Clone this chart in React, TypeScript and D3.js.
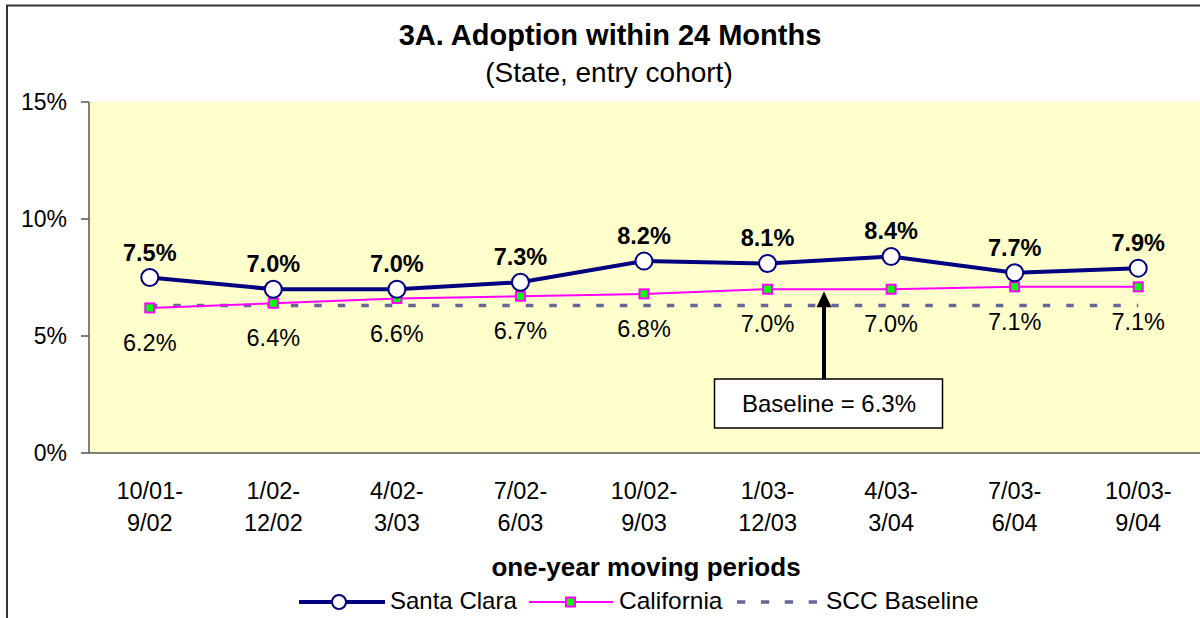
import React from "react";
import * as d3 from "d3";

const categories: string[][] = [
  ["10/01-", "9/02"],
  ["1/02-", "12/02"],
  ["4/02-", "3/03"],
  ["7/02-", "6/03"],
  ["10/02-", "9/03"],
  ["1/03-", "12/03"],
  ["4/03-", "3/04"],
  ["7/03-", "6/04"],
  ["10/03-", "9/04"],
];
const santaClara = [7.5, 7.0, 7.0, 7.3, 8.2, 8.1, 8.4, 7.7, 7.9];
const california = [6.2, 6.4, 6.6, 6.7, 6.8, 7.0, 7.0, 7.1, 7.1];
const sccBaseline = 6.3;
const yTicks = [0, 5, 10, 15];

const W = 1200;
const H = 618;
const FONT = "Arial, 'Liberation Sans', sans-serif";

export default function App() {
  const left = 89, right = 1200, top = 102, bottom = 453;
  const idx = categories.map((_, i) => String(i));
  const x = d3.scaleBand<string>().domain(idx).range([left - 1, right]);
  const cx = (i: number) => (x(String(i)) as number) + x.bandwidth() / 2;
  const y = d3.scaleLinear().domain([0, 15]).range([bottom, top]);

  const line = d3.line<number>().x((_, i) => cx(i)).y((d) => y(d));
  const scPath = line(santaClara) || "";
  const caPath = line(california) || "";
  const basePath = line(categories.map(() => sccBaseline)) || "";

  const arrowX = 824;
  const boxTop = 379;
  const arrowTip = y(7.0) + 2;

  return (
    <svg
      width={W}
      height={H}
      style={{ position: "absolute", left: 0, top: 0, background: "#fff" }}
      fontFamily={FONT}
    >
      {/* outer border */}
      <rect x={7} y={5.5} width={1300} height={700} fill="#fff" stroke="#333" strokeWidth={2} />
      {/* title */}
      <text x={610} y={45} textAnchor="middle" fontSize={29} fontWeight="bold">
        3A. Adoption within 24 Months
      </text>
      <text x={609} y={82} textAnchor="middle" fontSize={28}>
        (State, entry cohort)
      </text>
      {/* plot area */}
      <rect x={left} y={top} width={right - left} height={bottom - top} fill="#FFFFCC" />
      <line x1={left} x2={left} y1={top} y2={bottom} stroke="#555" strokeWidth={1.5} />
      <line x1={left} x2={right} y1={bottom} y2={bottom} stroke="#555" strokeWidth={1.5} />
      {yTicks.map((t) => (
        <g key={t}>
          <line x1={left - 8} x2={left} y1={y(t)} y2={y(t)} stroke="#555" strokeWidth={1.5} />
          <text x={67} y={y(t) + 7.5} textAnchor="end" fontSize={23}>
            {t}%
          </text>
        </g>
      ))}
      {categories.map((c, i) => (
        <g key={i}>
          <text x={cx(i)} y={499} textAnchor="middle" fontSize={23.5}>
            {c[0]}
          </text>
          <text x={cx(i)} y={531} textAnchor="middle" fontSize={23.5}>
            {c[1]}
          </text>
        </g>
      ))}
      <text x={646} y={576} textAnchor="middle" fontSize={26} fontWeight="bold">
        one-year moving periods
      </text>
      {/* baseline */}
      <path d={basePath} fill="none" stroke="#666699" strokeWidth={3.5} strokeDasharray="7.5,16" />
      {/* California */}
      <path d={caPath} fill="none" stroke="#FF00FF" strokeWidth={2} />
      {california.map((v, i) => (
        <g key={i}>
          <rect x={cx(i) - 4.5} y={y(v) - 4.5} width={9} height={9} fill="#00FF00" stroke="#FF00FF" strokeWidth={2} />
          <text x={cx(i)} y={y(v) + 43} textAnchor="middle" fontSize={23.5}>
            {v.toFixed(1)}%
          </text>
        </g>
      ))}
      {/* Santa Clara */}
      <path d={scPath} fill="none" stroke="#000080" strokeWidth={4} />
      {santaClara.map((v, i) => (
        <g key={i}>
          <circle cx={cx(i)} cy={y(v)} r={8.5} fill="#fff" stroke="#000080" strokeWidth={2} />
          <text x={cx(i)} y={y(v) - 17} textAnchor="middle" fontSize={23.5} fontWeight="bold">
            {v.toFixed(1)}%
          </text>
        </g>
      ))}
      {/* annotation */}
      <line x1={arrowX} x2={arrowX} y1={boxTop} y2={arrowTip + 12} stroke="#000" strokeWidth={4} />
      <path d={`M${arrowX},${arrowTip} L${arrowX - 7.5},${arrowTip + 16} L${arrowX + 7.5},${arrowTip + 16} Z`} fill="#000" />
      <rect x={714.5} y={boxTop} width={228} height={49} fill="#fff" stroke="#000" strokeWidth={1.5} />
      <text x={829} y={412} textAnchor="middle" fontSize={24}>
        Baseline = 6.3%
      </text>
      {/* legend */}
      <line x1={299} x2={385} y1={602} y2={602} stroke="#000080" strokeWidth={4} />
      <circle cx={339} cy={602} r={7} fill="#fff" stroke="#000080" strokeWidth={2} />
      <text x={390} y={609} fontSize={24}>Santa Clara</text>
      <line x1={529} x2={613} y1={602} y2={602} stroke="#FF00FF" strokeWidth={2} />
      <rect x={566} y={597.5} width={9} height={9} fill="#00FF00" stroke="#FF00FF" strokeWidth={2} />
      <text x={619} y={609} fontSize={24.5}>California</text>
      <line x1={737} x2={817} y1={602} y2={602} stroke="#666699" strokeWidth={3.5} strokeDasharray="8.3,15.6" />
      <text x={826} y={609} fontSize={24.5}>SCC Baseline</text>
    </svg>
  );
}
